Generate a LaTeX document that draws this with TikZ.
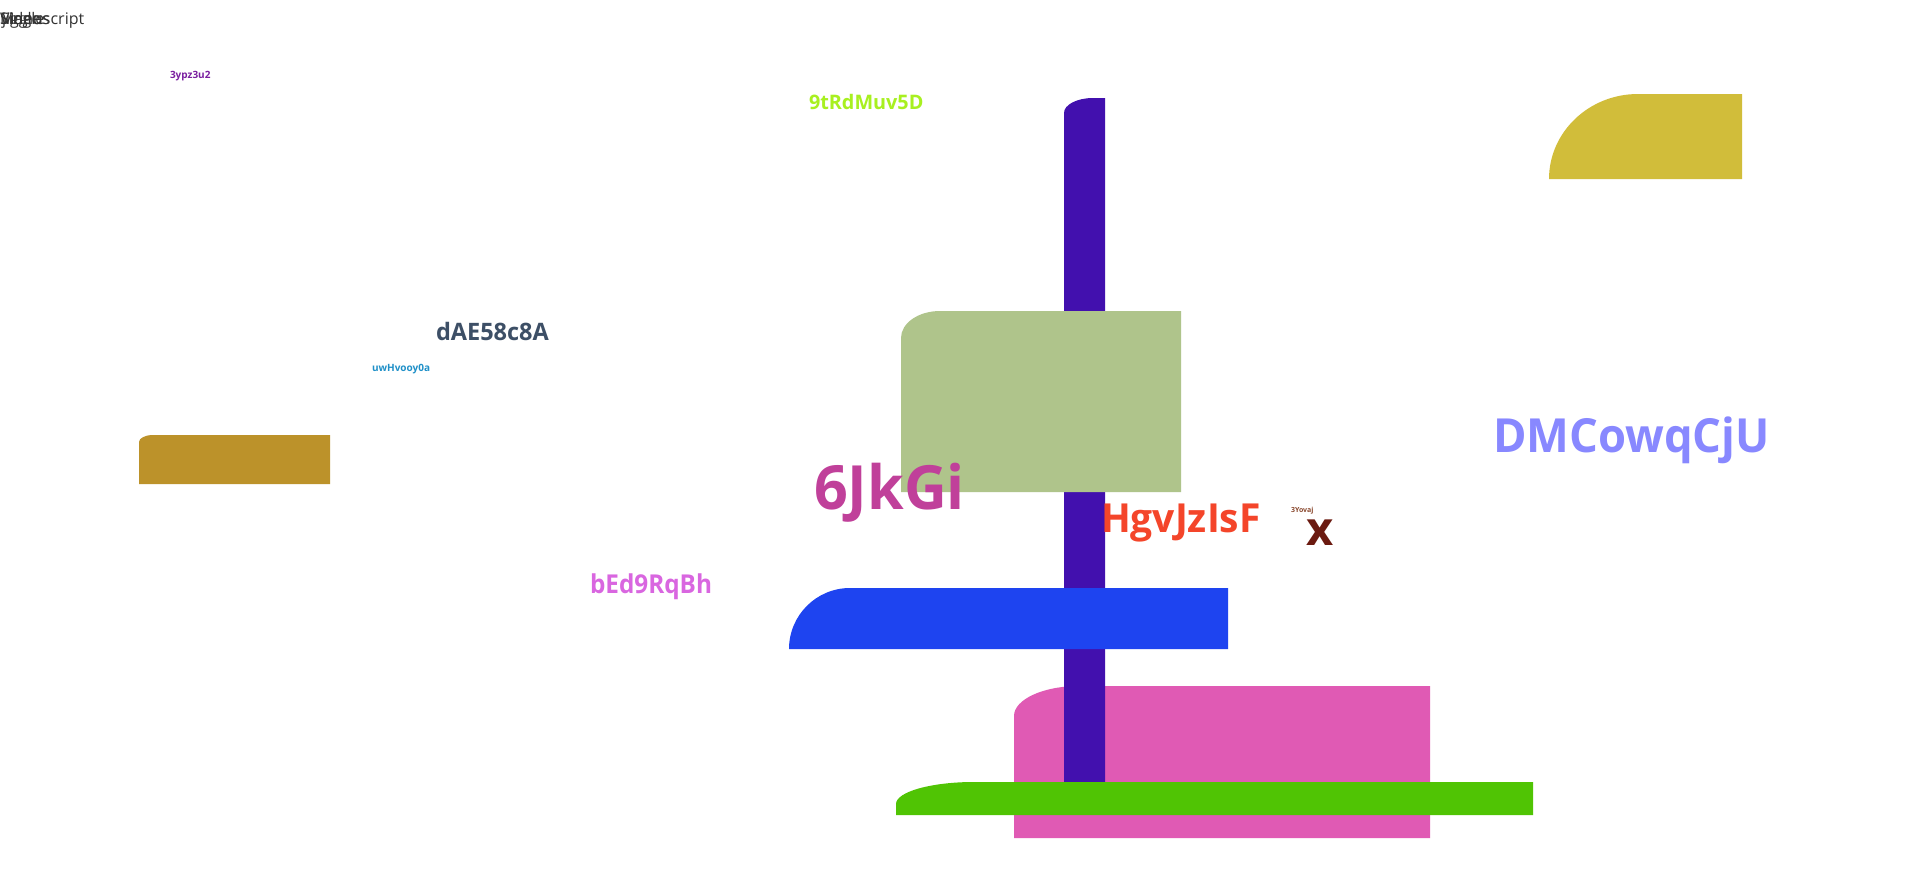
\documentclass[tikz,border=0pt]{standalone}
\usepackage{graphicx}
\usepackage{fontspec}
\setmainfont{Open Sans}
\definecolor{cYellow}{HTML}{D1BD3A}
\definecolor{cGold}{HTML}{BC922A}
\definecolor{cPink}{HTML}{E05AB4}
\definecolor{cPurple}{HTML}{4210AE}
\definecolor{cSage}{HTML}{AFC48B}
\definecolor{cBlue}{HTML}{1E44F0}
\definecolor{cGreen}{HTML}{50C404}
\definecolor{tPurple}{HTML}{7A1FA0}
\definecolor{tLime}{HTML}{A8F020}
\definecolor{tSlate}{HTML}{3D4F66}
\definecolor{tCyan}{HTML}{1F90C8}
\definecolor{tLav}{HTML}{8888FF}
\definecolor{tMag}{HTML}{C0409A}
\definecolor{tRed}{HTML}{F4452A}
\definecolor{tBrown}{HTML}{8B4A30}
\definecolor{tDark}{HTML}{6B1A10}
\definecolor{tOrchid}{HTML}{D966E0}
\definecolor{tGray}{HTML}{333333}
% top-left rounded box: color, x1, y1, x2, y2, rx, ry
\newcommand{\tlbox}[7]{%
  \fill[#1] (#2,#5) -- (#2,#3+#7)
    .. controls (#2,#3+0.448*#7) and (#2+0.448*#6,#3) .. (#2+#6,#3)
    -- (#4,#3) -- (#4,#5) -- cycle;}
\newcommand{\sqz}[2]{\scalebox{#1}[1]{#2}}
\tikzset{
  lbl/.style={anchor=base west, inner sep=0pt, outer sep=0pt, font=\bfseries},
  tlword/.style={anchor=base west, inner sep=0pt, outer sep=0pt, text=tGray, font=\fontsize{16}{16}\selectfont},
}
\begin{document}
\begin{tikzpicture}[x=1pt,y=-1pt]
\useasboundingbox (0,0) rectangle (1920,870);
\fill[white] (0,0) rectangle (1920,870);
% shapes
\tlbox{cYellow}{1549}{94}{1742}{179}{89}{85}
\tlbox{cGold}{139}{435}{330}{484}{14}{7}
\tlbox{cPink}{1014}{686}{1430}{838}{65}{30}
\tlbox{cPurple}{1064}{98}{1105}{782}{29}{15}
\tlbox{cSage}{901}{311}{1181}{492}{39}{27}
\tlbox{cBlue}{789}{588}{1228}{649}{61}{61}
\tlbox{cGreen}{896}{782}{1533}{815}{78}{22}
% top-left overlapping texts
\node[tlword] (tl1) at (0,24) {Manuscript};
\node[tlword] (tl2) at (0,24) {Single};
\node[tlword] (tl3) at (2,24) {jiggle};
\node[tlword] (tl4) at (0,24) {Videos};
% labels
\node[lbl, text=tPurple, font=\bfseries\fontsize{10}{10}\selectfont] (a) at (170,78) {3ypz3u2};
\node[lbl, text=tLime, font=\bfseries\fontsize{20}{20}\selectfont] (b) at (809,109) {\sqz{0.99}{9tRdMuv5D}};
\node[lbl, text=tSlate, font=\bfseries\fontsize{24}{24}\selectfont] (c) at (436,340) {\sqz{0.98}{dAE58c8A}};
\node[lbl, text=tCyan, font=\bfseries\fontsize{10}{10}\selectfont] (d) at (372,371) {uwHvooy0a};
\node[lbl, text=tLav, font=\bfseries\fontsize{47}{47}\selectfont] (e) at (1493,452) {\sqz{0.965}{DMCowqCjU}};
\node[lbl, text=tMag, font=\bfseries\fontsize{61}{61}\selectfont] (f) at (814,509) {\sqz{0.97}{6JkGi}};
\node[lbl, text=tRed, font=\bfseries\fontsize{40}{40}\selectfont] (g) at (1101,532) {\sqz{0.975}{HgvJzIsF}};
\node[lbl, text=tBrown, font=\bfseries\fontsize{7}{7}\selectfont] (h) at (1291,512) {3Yovaj};
\node[lbl, text=tDark, font=\bfseries\fontsize{47}{47}\selectfont] (i) at (1306,545) {x};
\node[lbl, text=tOrchid, font=\bfseries\fontsize{26}{26}\selectfont] (j) at (590,593) {\sqz{0.935}{bEd9RqBh}};
\end{tikzpicture}
\end{document}
